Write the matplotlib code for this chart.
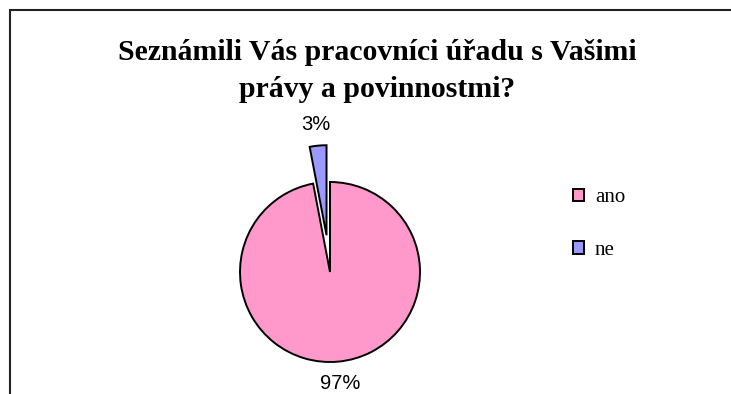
import matplotlib.pyplot as plt
from matplotlib.patches import Rectangle

labels = ['ano', 'ne']
values = [97, 3]
colors = ['#FF99CC', '#9999FF']
title = 'Seznámili Vás pracovníci úřadu s Vašimi\nprávy a povinnostmi?'

W, H = 731, 394
fig = plt.figure(figsize=(W / 100, H / 100), dpi=100)

# frame around the chart area (only top and left edges fall inside the image)
fig.patches.append(Rectangle((10 / W, -0.1), 1.2, 1.1 - 10 / H, transform=fig.transFigure,
                             fill=False, edgecolor='#222222', linewidth=1.5))

# axes over the whole figure, 1 data unit = 90 px (pie radius)
ax = fig.add_axes([0, 0, 1, 1])
cx, cy, r = 330, H - 272, 90

wedges, _, autotexts = ax.pie(values, colors=colors, startangle=90, counterclock=False,
                              explode=[0, 0.41], autopct='%.0f%%', pctdistance=1.24,
                              wedgeprops=dict(edgecolor='black', linewidth=1.4),
                              textprops=dict(family='Liberation Sans', fontsize=14.5))
ax.set_xlim(-cx / r, (W - cx) / r)
ax.set_ylim(-cy / r, (H - cy) / r)
ax.axis('off')

fig.text(377 / W, 1 - 71 / H, title, ha='center', va='center', family='Liberation Serif',
         fontweight='bold', fontsize=21.4, linespacing=1.45)

leg = fig.legend(wedges, labels, loc='center left', bbox_to_anchor=(573 / W, 1 - 224 / H),
                 frameon=False, borderpad=0, borderaxespad=0, handlelength=0.55, handleheight=0.55,
                 handletextpad=0.5, labelspacing=1.6, prop=dict(family='Liberation Serif', size=15))
for h in leg.legend_handles:
    h.set_linewidth(1.4)

fig.savefig('out.png', dpi=100)
